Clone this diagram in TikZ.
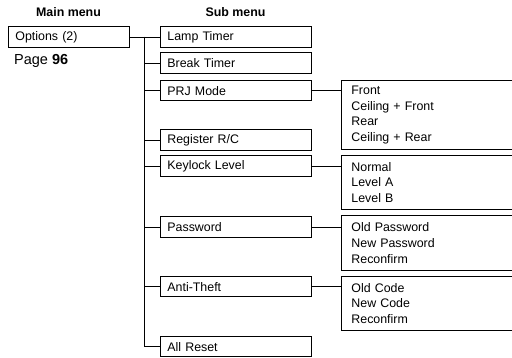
\documentclass[tikz,border=0pt]{standalone}
\usepackage{fontspec}
\setmainfont{Liberation Sans}
\usetikzlibrary{positioning}
\tikzset{
  menubox/.style={draw, line width=0.8pt, rectangle, anchor=north west, inner xsep=7pt, inner ysep=0pt,
    minimum height=20.5pt, align=left},
  listbox/.style={draw, line width=0.8pt, rectangle, anchor=north west, inner xsep=10pt, inner ysep=0pt,
    text width=153pt, align=left},
  link/.style={line width=0.8pt}
}
\begin{document}
\begin{tikzpicture}[x=1pt,y=-1pt,font=\fontsize{12.4}{15.7}\selectfont]
		\useasboundingbox (0,0) rectangle (512,358);
		
		% headings
		\node[font=\fontsize{12.4}{14}\selectfont\bfseries] (mainhead) at (68.5,12) {Main menu};
		\node[font=\fontsize{12.4}{14}\selectfont\bfseries] (subhead) at (235.5,12) {Sub menu};
		
		% main menu
		\node[menubox, text width=107pt] (options) at (8,26.5) {Options (2)};
		\node[anchor=west, inner sep=0pt, font=\fontsize{14.5}{16}\selectfont] (page) at (14,61) {Page \textbf{96}};
		
		% sub menu
		\node[menubox, text width=137pt] (lamp) at (160,26.5) {Lamp Timer};
		\node[menubox, text width=137pt] (break) at (160,52.5) {Break Timer};
		\node[menubox, text width=137pt] (prj) at (160,80) {PRJ Mode};
		\node[menubox, text width=137pt] (register) at (160,129.5) {Register R/C};
		\node[menubox, text width=137pt] (keylock) at (160,155.5) {Keylock Level};
		\node[menubox, text width=137pt] (password) at (160,216.5) {Password};
		\node[menubox, text width=137pt] (antitheft) at (160,276) {Anti-Theft};
		\node[menubox, text width=137pt] (reset) at (160,336) {All Reset};
		
		% option lists
		\node[listbox, minimum height=69pt] (prjlist) at (341,80) {Front\\Ceiling + Front\\Rear\\Ceiling + Rear};
		\node[listbox, minimum height=54pt] (keylist) at (341,155) {Normal\\Level A\\Level B};
		\node[listbox, minimum height=55pt] (pwlist) at (341,215) {Old Password\\New Password\\Reconfirm};
		\node[listbox, minimum height=54pt] (codelist) at (341,276) {Old Code\\New Code\\Reconfirm};
		
		% tree lines
		\coordinate (trunk) at (144.5,36.75);
		\draw[link] (options.east) -- (lamp.west);
		\draw[link] (trunk) -- (trunk |- reset.west) -- (reset.west);
		\draw[link] (trunk |- break.west) -- (break.west);
		\draw[link] (trunk |- prj.west) -- (prj.west);
		\draw[link] (trunk |- register.west) -- (register.west);
		\draw[link] (trunk |- keylock.west) -- (keylock.west);
		\draw[link] (trunk |- password.west) -- (password.west);
		\draw[link] (trunk |- antitheft.west) -- (antitheft.west);
		
		\draw[link] (prj.east) -- (prj.east -| prjlist.west);
		\draw[link] (keylock.east) -- (keylock.east -| keylist.west);
		\draw[link] (password.east) -- (password.east -| pwlist.west);
		\draw[link] (antitheft.east) -- (antitheft.east -| codelist.west);
	\end{tikzpicture}
\end{document}
